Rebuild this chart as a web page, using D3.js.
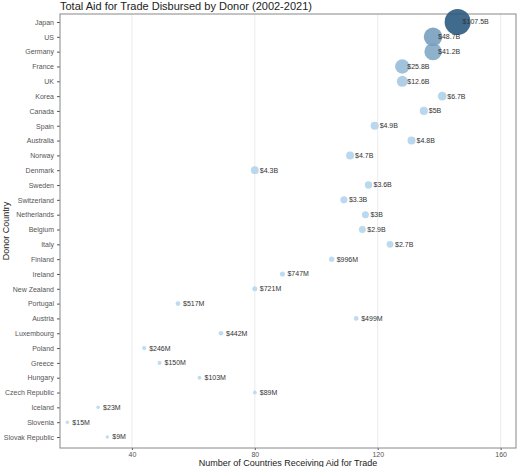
<!DOCTYPE html>
<html><head><meta charset="utf-8">
<script src="https://cdn.jsdelivr.net/npm/d3@7"></script>
<style>body{margin:0;background:#fff;font-family:"Liberation Sans",Arial,sans-serif}</style>
</head><body><svg id="chart"></svg>
<script>
var donors = ["Japan","US","Germany","France","UK","Korea","Canada","Spain","Australia","Norway","Denmark","Sweden","Switzerland","Netherlands","Belgium","Italy","Finland","Ireland","New Zealand","Portugal","Austria","Luxembourg","Poland","Greece","Hungary","Czech Republic","Iceland","Slovenia","Slovak Republic"];
var countries = [146,138,138,128,128,141,135,119,131,111,80,117,109,116,115,124,105,89,80,55,113,69,44,49,62,80,29,19,32];
var aid = [107.5,48.7,41.2,25.8,12.6,6.7,5,4.9,4.8,4.7,4.3,3.6,3.3,3,2.9,2.7,0.996,0.747,0.721,0.517,0.499,0.442,0.246,0.150,0.103,0.089,0.023,0.015,0.009];
var labels = ["$107.5B","$48.7B","$41.2B","$25.8B","$12.6B","$6.7B","$5B","$4.9B","$4.8B","$4.7B","$4.3B","$3.6B","$3.3B","$3B","$2.9B","$2.7B","$996M","$747M","$721M","$517M","$499M","$442M","$246M","$150M","$103M","$89M","$23M","$15M","$9M"];
var xTicks = [40,80,120,160];

var width = 520, height = 467,
    margin = {top: 14, right: 4, bottom: 19, left: 60};

var svg = d3.select("#chart").attr("width", width).attr("height", height);

var x = d3.scaleLinear().domain([16.6, 165]).range([margin.left, width - margin.right]);
var y = d3.scalePoint().domain(donors).range([margin.top + 8, height - margin.bottom - 11]);
var r = d3.scaleSqrt().domain([0, 107.5]).range([1.6, 13]);
var color = d3.scaleLinear().domain([0, 107.5]).range(["#b7d9f1", "#2c5b80"]);

svg.append("text").attr("x", 60).attr("y", 10).attr("font-size", 11).attr("fill", "#222")
    .text("Total Aid for Trade Disbursed by Donor (2002-2021)");

// grid
svg.append("g").selectAll("line").data(xTicks).join("line")
    .attr("x1", d => x(d)).attr("x2", d => x(d))
    .attr("y1", margin.top).attr("y2", height - margin.bottom)
    .attr("stroke", "#ebebeb").attr("stroke-width", 1);

var xAxis = svg.append("g")
    .attr("transform", "translate(0," + (height - margin.bottom) + ")")
    .call(d3.axisBottom(x).tickValues(xTicks).tickSize(2).tickPadding(2).tickSizeOuter(0));
var yAxis = svg.append("g")
    .attr("transform", "translate(" + margin.left + ",0)")
    .call(d3.axisLeft(y).tickSize(3).tickSizeOuter(0));
[xAxis, yAxis].forEach(function (g) {
    g.select(".domain").remove();
    g.selectAll(".tick line").attr("stroke", "#555");
    g.selectAll(".tick text").attr("fill", "#555").attr("font-size", 7).attr("font-family", "Liberation Sans, Arial, sans-serif");
});

svg.append("rect").attr("x", margin.left).attr("y", margin.top)
    .attr("width", width - margin.left - margin.right).attr("height", height - margin.top - margin.bottom)
    .attr("fill", "none").attr("stroke", "#888").attr("stroke-width", 1);

var idx = d3.range(donors.length).sort((a, b) => aid[a] - aid[b]);
svg.append("g").selectAll("circle").data(idx).join("circle")
    .attr("cx", i => x(countries[i])).attr("cy", i => y(donors[i]))
    .attr("r", i => r(aid[i]))
    .attr("fill", i => color(aid[i])).attr("fill-opacity", 0.9);

svg.append("g").selectAll("text").data(idx).join("text")
    .attr("x", i => x(countries[i]) + 5).attr("y", i => y(donors[i]))
    .attr("dy", "0.35em").attr("font-size", 7).attr("fill", "#333")
    .text(i => labels[i]);

svg.append("text").attr("x", (margin.left + width - margin.right) / 2).attr("y", height - 1)
    .attr("text-anchor", "middle").attr("font-size", 9).attr("fill", "#222")
    .text("Number of Countries Receiving Aid for Trade");
svg.append("text").attr("transform", "translate(9," + ((margin.top + height - margin.bottom) / 2) + ") rotate(-90)")
    .attr("text-anchor", "middle").attr("font-size", 9).attr("fill", "#222")
    .text("Donor Country");
</script></body></html>
